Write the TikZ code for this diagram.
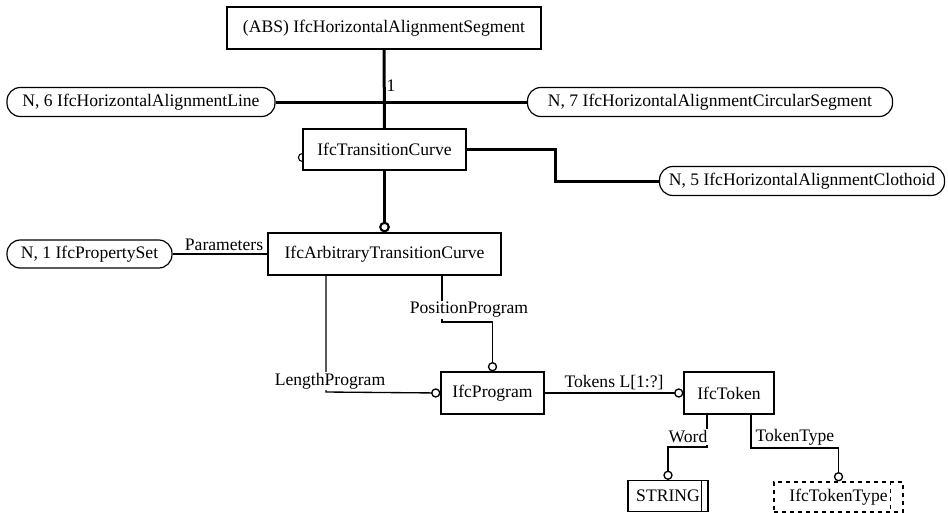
\documentclass[tikz,border=0pt]{standalone}
\usepackage{fontspec}
\setmainfont{Liberation Serif}
\usetikzlibrary{arrows.meta}

\begin{document}
\begin{tikzpicture}[x=0.75pt, y=-0.75pt,
  every node/.style={font=\fontsize{13.2}{15}\selectfont},
  entity/.style={draw, line width=0.9pt, inner sep=0pt},
  extref/.style={draw, line width=0.9pt, rounded corners=10pt, inner sep=0pt, minimum height=21.75pt},
  heavy/.style={line width=2.25pt},
  light/.style={line width=1pt},
  optional/.style={-{Circle[open,length=7pt,line width=1pt]}},
  heavyopt/.style={-{Circle[open,length=8pt,line width=1.6pt]}},
  role/.style={fill=white, inner sep=1pt}]
  \useasboundingbox (0,0) rectangle (948,512);

  \node[entity, minimum width=235.5pt, minimum height=31.5pt] (seg) at (384,28) {(ABS) IfcHorizontalAlignmentSegment};
  \node[extref, minimum width=201pt] (line6) at (141,102) {N, 6 IfcHorizontalAlignmentLine};
  \node[extref, minimum width=273.75pt] (circ7) at (710,102) {N, 7 IfcHorizontalAlignmentCircularSegment};
  \node[entity, minimum width=122.25pt, minimum height=30.75pt] (trans) at (384.5,149.5) {IfcTransitionCurve};
  \node[extref, minimum width=213.75pt] (cloth) at (802,181) {N, 5 IfcHorizontalAlignmentClothoid};
  \node[entity, minimum width=174.75pt, minimum height=31.5pt] (arb) at (384.5,254) {IfcArbitraryTransitionCurve};
  \node[extref, minimum width=123.75pt, minimum height=21pt] (pset) at (89.5,254) {N, 1 IfcPropertySet};
  \node[entity, minimum width=77.25pt, minimum height=31.5pt] (prog) at (492.5,393) {IfcProgram};
  \node[entity, minimum width=67.5pt, minimum height=31.5pt] (token) at (729,393) {IfcToken};
  \node[entity, minimum width=60pt, minimum height=23.25pt] (string) at (668,496) {STRING\hspace{4pt}};
  \node[entity, dashed, minimum width=96.75pt, minimum height=22.5pt] (ttype) at (838.5,497) {IfcTokenType\hspace{8pt}};
  \draw[line width=0.9pt] ([xshift=-5.25pt]string.north east) -- ([xshift=-5.25pt]string.south east);
  \draw[line width=0.9pt, dashed] ([xshift=-9.75pt]ttype.north east) -- ([xshift=-9.75pt]ttype.south east);

  \coordinate (clothx) at (555,181);
  \coordinate (lenx) at (326,392);
  \coordinate (posx) at (442,322);
  \coordinate (wordx) at (707,447);
  \coordinate (typex) at (751,448);

  % supertype and subtypes
  \draw[heavy] (seg) -- (trans);
  \draw[heavy] (line6) -- (circ7);
  \draw[heavy] (trans.east) -| (clothx) -- (cloth.west);
  \draw[heavy, heavyopt] (trans) -- (arb);
  \draw[line width=0.8pt] (trans.west) ++(0,-3pt) arc (90:270:3pt);
  \node[anchor=west, inner sep=1pt] (one) at (385,86) {1};

  % attributes
  \draw[light] (pset) -- node[above, inner sep=2pt, xshift=3pt] {Parameters} (arb);
  \draw[light, optional] (arb.south -| lenx) -- (lenx) -- (prog.west);
  \node[role] (lenlbl) at (330,381) {LengthProgram};
  \draw[light, optional] (arb.south -| posx) -- (posx) -| (prog.north);
  \node[role] (poslbl) at (469,310) {PositionProgram};
  \draw[light, optional] (prog) -- node[above, inner sep=2pt] {Tokens L[1:?]} (token);
  \draw[light, optional] (token.south -| wordx) -- (wordx) -| (string.north);
  \node[role] (wordlbl) at (688,437) {Word};
  \draw[light, optional] (token.south -| typex) -- (typex) -| (ttype.north);
  \node[anchor=west, inner sep=1pt] (typelbl) at (754,437) {TokenType};
\end{tikzpicture}
\end{document}
